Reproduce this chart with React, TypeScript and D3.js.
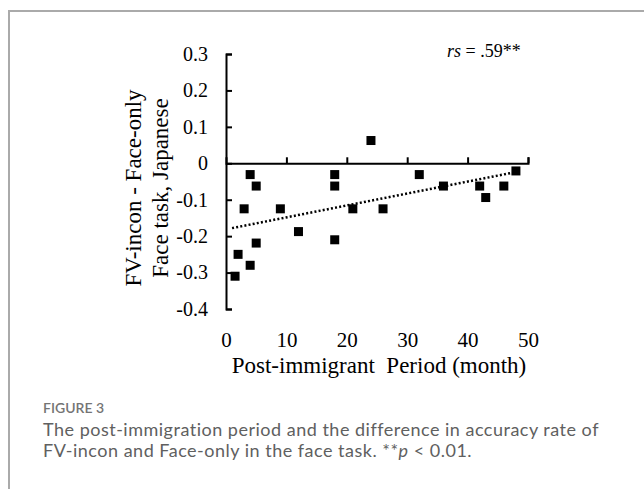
import React, { useEffect, useRef } from 'react';
import * as d3 from 'd3';

// months since immigration vs. accuracy difference (FV-incon - Face-only)
const months = [1.5, 2, 4, 3, 4, 5, 5, 9, 12, 18, 18, 18, 21, 24, 26, 32, 36, 42, 43, 46, 48];
const diffs = [-0.31, -0.25, -0.28, -0.125, -0.031, -0.0625, -0.219, -0.125, -0.1875, -0.031, -0.0625, -0.21, -0.125, 0.0625, -0.125, -0.031, -0.0625, -0.0625, -0.094, -0.0625, -0.021];

// dotted trend line, end points
const trendX = [1, 48];
const trendY = [-0.178, -0.024];

const xTicks = [0, 10, 20, 30, 40, 50];
const yTicks = [-0.4, -0.3, -0.2, -0.1, 0, 0.1, 0.2, 0.3];

const serif = '"Liberation Serif", "Times New Roman", serif';
const sans = 'Lato, "Open Sans", sans-serif';

const App = () => {
  const svgRef = useRef<SVGSVGElement>(null);

  useEffect(() => {
    const width = 644;
    const height = 489;

    const x = d3.scaleLinear().domain([0, 50]).range([226, 528]);
    const y = d3.scaleLinear().domain([-0.4, 0.3]).range([309, 54]);

    const svg = d3.select(svgRef.current)
      .attr('width', width)
      .attr('height', height)
      .attr('viewBox', [0, 0, width, height]);
    svg.selectAll('*').remove();

    svg.append('rect').attr('width', width).attr('height', height).attr('fill', '#fff');

    // frame of the figure box (only left and top show)
    svg.append('path')
      .attr('d', `M9,${height}V11H${width}`)
      .attr('fill', 'none')
      .attr('stroke', '#aaaaaa')
      .attr('stroke-width', 2);

    // y axis, ticks pointing inwards, plain hyphen for minus like the original
    svg.append('g')
      .attr('transform', `translate(${x(0)},0)`)
      .call(d3.axisLeft(y).tickValues(yTicks).tickSizeInner(-6).tickSizeOuter(-6).tickPadding(18)
        .tickFormat((d) => (d === 0 ? '0' : (d as number).toFixed(1))))
      .call((g) => g.attr('font-family', serif).attr('font-size', 20))
      .call((g) => g.selectAll('path, line').attr('stroke', '#000').attr('stroke-width', 2))
      .call((g) => g.selectAll('text').attr('fill', '#000'));

    // x axis drawn at y = 0, ticks pointing up
    svg.append('g')
      .attr('transform', `translate(0,${y(0)})`)
      .call(d3.axisTop(x).tickValues(xTicks.slice(1)).tickSizeInner(6).tickSizeOuter(6).tickFormat(() => ''))
      .call((g) => g.selectAll('path, line').attr('stroke', '#000').attr('stroke-width', 2));

    // x tick labels sit under the plot
    svg.append('g')
      .attr('transform', `translate(0,${y(-0.4)})`)
      .call(d3.axisBottom(x).tickValues(xTicks).tickSize(0).tickPadding(23))
      .call((g) => g.select('.domain').remove())
      .call((g) => g.attr('font-family', serif).attr('font-size', 21))
      .call((g) => g.selectAll('text').attr('fill', '#000'));

    // trend line
    svg.append('path')
      .datum(d3.zip(trendX, trendY))
      .attr('d', d3.line().x((d) => x(d[0])).y((d) => y(d[1])))
      .attr('fill', 'none')
      .attr('stroke', '#000')
      .attr('stroke-width', 2.5)
      .attr('stroke-dasharray', '2 2.2');

    // points
    svg.append('g')
      .selectAll('rect')
      .data(d3.range(months.length))
      .join('rect')
      .attr('x', (i) => x(months[i]) - 4.5)
      .attr('y', (i) => y(diffs[i]) - 4.5)
      .attr('width', 9)
      .attr('height', 9)
      .attr('fill', '#000');

    // correlation label
    const rs = svg.append('text')
      .attr('x', 447)
      .attr('y', 57)
      .attr('font-family', serif)
      .attr('font-size', 18);
    rs.append('tspan').attr('font-style', 'italic').text('rs');
    rs.append('tspan').text(' = .59**');

    // axis titles
    svg.append('text')
      .attr('x', 379)
      .attr('y', 373)
      .attr('text-anchor', 'middle')
      .attr('font-family', serif)
      .attr('font-size', 23)
      .style('white-space', 'pre')
      .text('Post-immigrant  Period (month)');

    const yTitle = svg.append('text')
      .attr('transform', 'translate(0,188) rotate(-90)')
      .attr('text-anchor', 'middle')
      .attr('font-family', serif)
      .attr('font-size', 23);
    yTitle.append('tspan').attr('x', 0).attr('y', 141).text('FV-incon - Face-only');
    yTitle.append('tspan').attr('x', 0).attr('y', 168).text('Face task, Japanese');

    // caption
    svg.append('text')
      .attr('x', 43)
      .attr('y', 413)
      .attr('font-family', sans)
      .attr('font-size', 14)
      .attr('font-weight', 600)
      .attr('fill', '#747474')
      .text('FIGURE 3');

    svg.append('text')
      .attr('x', 43)
      .attr('y', 436)
      .attr('font-family', sans)
      .attr('font-size', 18)
      .attr('letter-spacing', 0.5)
      .attr('fill', '#606060')
      .text('The post-immigration period and the difference in accuracy rate of');

    const cap2 = svg.append('text')
      .attr('x', 43)
      .attr('y', 457)
      .attr('font-family', sans)
      .attr('font-size', 18)
      .attr('letter-spacing', 0.5)
      .attr('fill', '#606060');
    cap2.append('tspan').text('FV-incon and Face-only in the face task. **');
    cap2.append('tspan').attr('font-style', 'italic').text('p');
    cap2.append('tspan').text(' < 0.01.');
  }, []);

  return (
    <svg ref={svgRef} style={{ position: 'absolute', left: 0, top: 0, display: 'block' }}></svg>
  );
};

export default App;
